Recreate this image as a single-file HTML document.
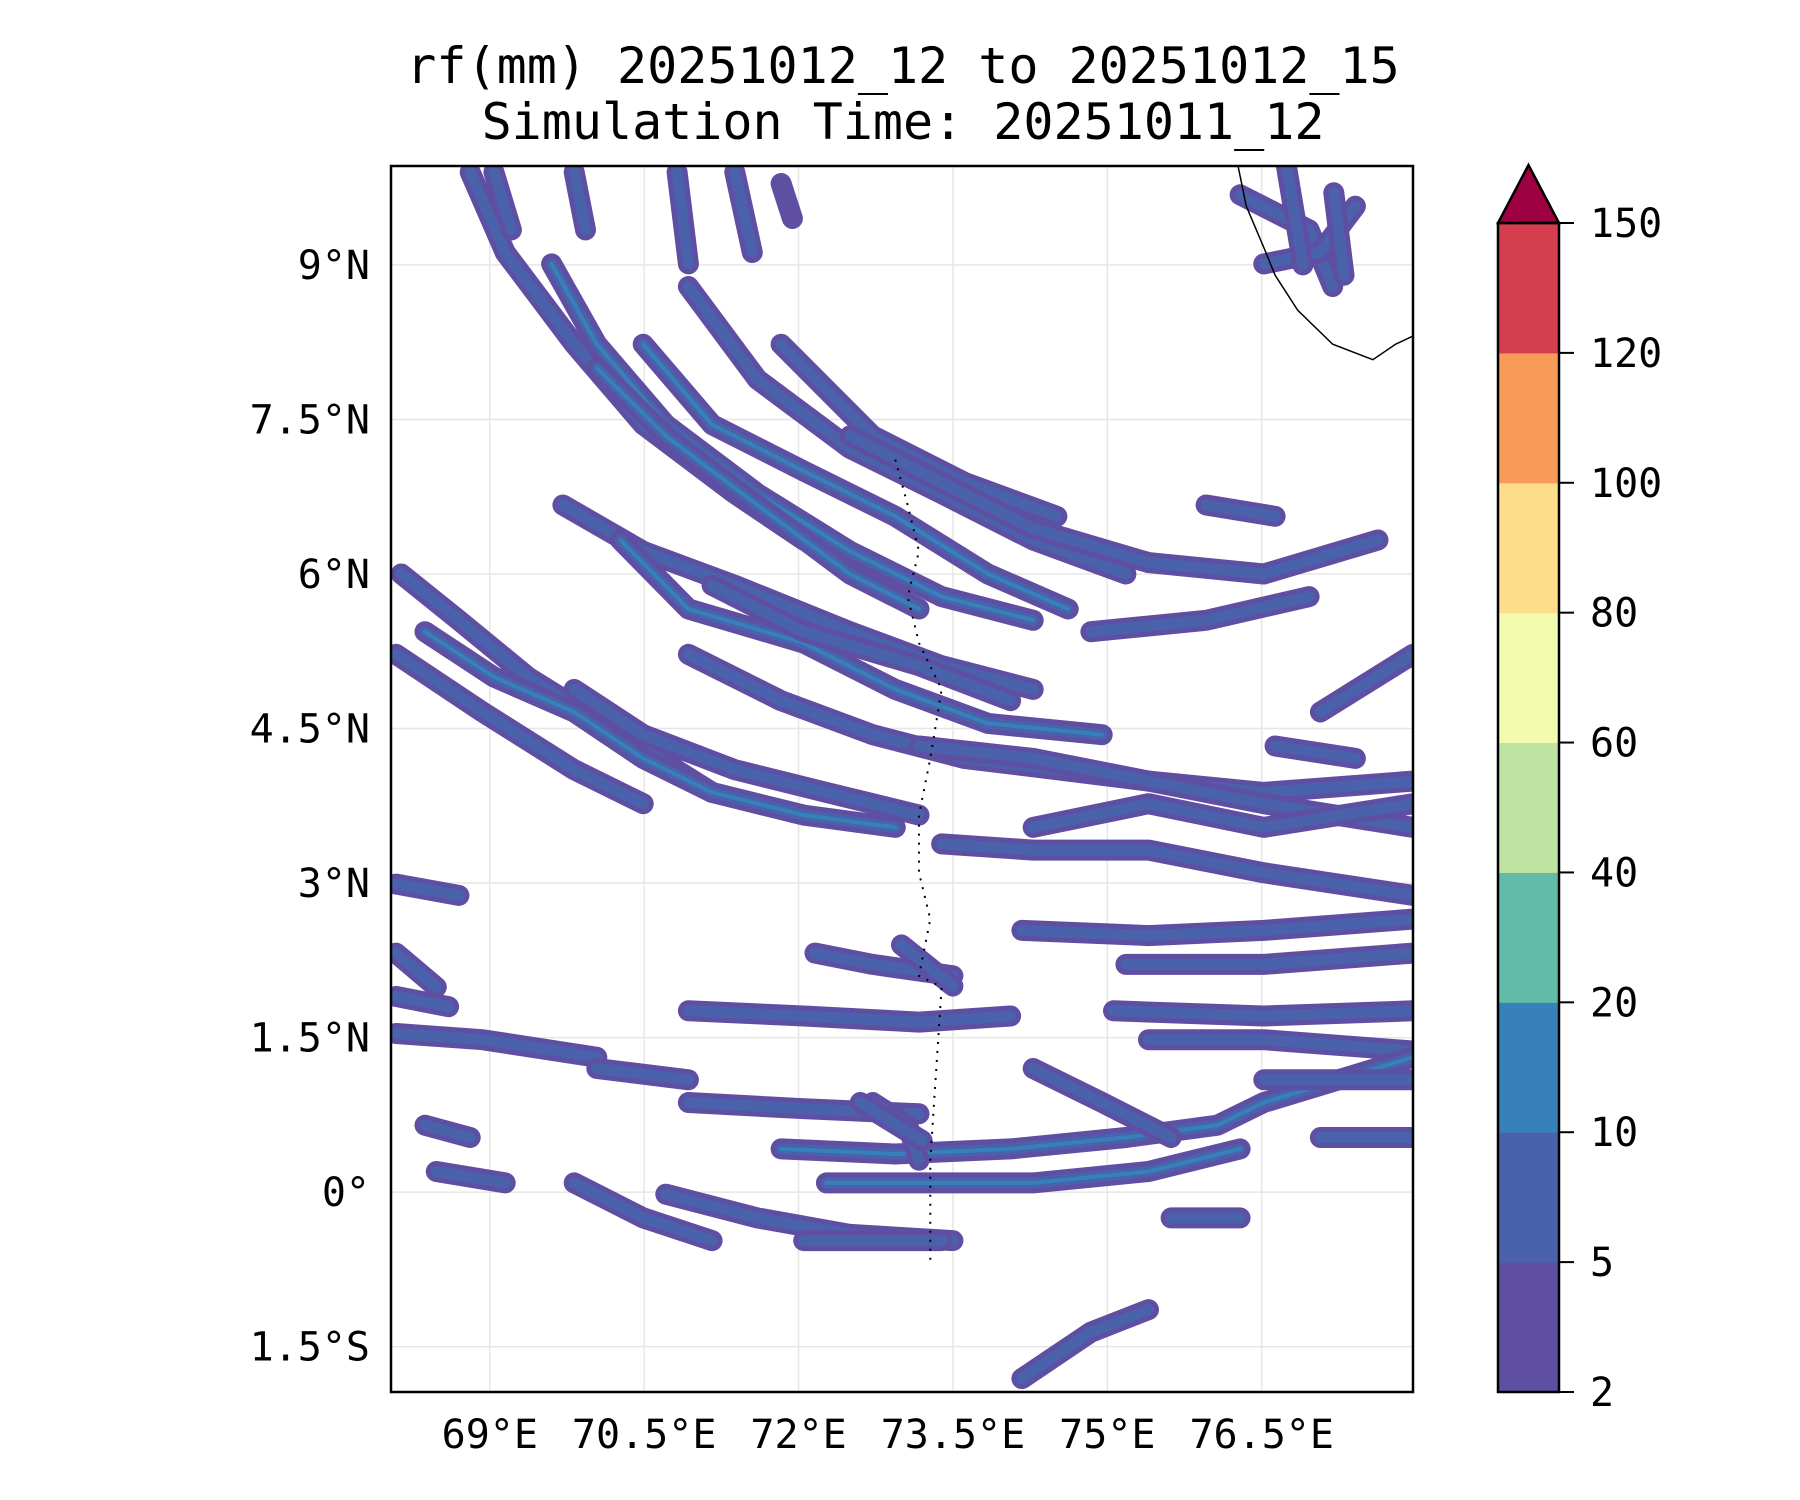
<!DOCTYPE html>
<html><head><meta charset="utf-8"><style>
html,body{margin:0;padding:0;background:#fff;width:1800px;height:1500px;overflow:hidden}
svg text{font-family:"DejaVu Sans Mono","Liberation Mono",monospace;fill:#000}
</style></head><body>
<svg id="chart" width="1800" height="1500" viewBox="0 0 1800 1500" xmlns="http://www.w3.org/2000/svg">
<text x="903" y="83" font-size="50" text-anchor="middle">rf(mm) 20251012_12 to 20251012_15</text>
<text x="903" y="139" font-size="50" text-anchor="middle">Simulation Time: 20251011_12</text>
<defs><clipPath id="pc"><rect x="391" y="166" width="1022" height="1226"/></clipPath></defs>
<g id="grid"></g>
<g id="rain" clip-path="url(#pc)"></g>
<g id="coast" clip-path="url(#pc)"></g>
<rect x="391" y="166" width="1022" height="1226" fill="none" stroke="#000" stroke-width="2.5"/>
<g id="axes"></g>
<g id="cbar"></g>
</svg>
<script>
const lonTicks=[69,70.5,72,73.5,75,76.5];
const lonLabels=["69°E","70.5°E","72°E","73.5°E","75°E","76.5°E"];
const latTicks=[9,7.5,6,4.5,3,1.5,0,-1.5];
const latLabels=["9°N","7.5°N","6°N","4.5°N","3°N","1.5°N","0°","1.5°S"];
const cbLevels=[2,5,10,20,40,60,80,100,120,150];
const cbColors=["#5e4fa2","#4a62ac","#3681ba","#62bba9","#bde4a0","#f2faad","#fddc8b","#f99b58","#d53e4f"];
const cbExtendColor="#9e0142";
// rain bands: flat lon,lat pairs
const bands=[
[68.81,9.90,69.15,9.12,69.82,8.23,70.49,7.45,71.38,6.78,72.05,6.33,72.94,5.89],
[69.60,9.01,70.04,8.23,70.71,7.45,71.60,6.78,72.50,6.22,73.39,5.78,74.28,5.55],
[70.04,8.00,70.71,7.34,71.60,6.67,72.50,6.00,73.17,5.66],
[70.49,8.23,71.16,7.45,72.05,7.00,72.94,6.56,73.84,6.00,74.62,5.66],
[70.93,8.79,71.60,7.89,72.50,7.22,73.39,6.78,74.28,6.33,75.18,6.00],
[71.83,8.23,72.72,7.34,73.61,6.89,74.51,6.56],
[72.50,7.34,73.39,6.89,74.28,6.44,75.40,6.11,76.52,6.00,77.63,6.33],
[69.71,6.67,70.49,6.22,71.38,5.89,72.50,5.44,73.39,5.11,74.28,4.88],
[70.27,6.33,70.93,5.66,72.05,5.33,72.94,4.88,73.84,4.55,74.95,4.44],
[71.16,5.89,72.05,5.44,73.17,5.11,74.06,4.77],
[68.14,6.00,68.70,5.55,69.37,5.00,70.27,4.44,71.16,3.88],
[68.09,5.22,68.93,4.66,69.82,4.10,70.49,3.77],
[68.37,5.44,69.04,5.00,69.82,4.66,70.49,4.21,71.16,3.88,72.05,3.66,72.94,3.54],
[69.82,4.88,70.49,4.44,71.38,4.10,72.27,3.88,73.17,3.66],
[70.93,5.22,71.83,4.77,72.72,4.44,73.61,4.21,74.51,4.10,75.40,3.99,76.52,3.88,77.97,3.99],
[73.17,4.33,74.28,4.21,75.40,3.99,76.52,3.77,77.97,3.54],
[73.39,3.38,74.28,3.32,75.40,3.32,76.52,3.10,77.97,2.88],
[74.28,3.54,75.40,3.77,76.52,3.54,77.97,3.77],
[74.84,5.44,75.96,5.55,76.96,5.78],
[77.07,4.66,77.97,5.22],
[68.09,2.99,68.70,2.88],
[74.17,2.54,75.40,2.49,76.52,2.54,77.97,2.65],
[75.18,2.21,76.52,2.21,77.97,2.32],
[75.06,1.76,76.52,1.71,77.97,1.76],
[75.40,1.48,76.52,1.48,77.97,1.37],
[72.16,2.32,72.72,2.21,73.50,2.10],
[70.93,1.76,72.05,1.71,73.17,1.65,74.06,1.71],
[68.09,1.54,68.93,1.48,70.04,1.31],
[70.04,1.20,70.93,1.09],
[70.93,0.87,72.05,0.81,73.17,0.76],
[71.83,0.42,72.94,0.37,74.06,0.42,75.18,0.53,76.07,0.65,76.52,0.87,77.97,1.31],
[72.27,0.09,73.17,0.09,74.28,0.09,75.40,0.20,76.29,0.42],
[70.71,-0.02,71.60,-0.25,72.50,-0.41,73.50,-0.47],
[69.82,0.09,70.49,-0.25,71.16,-0.47],
[74.28,1.20,74.95,0.87,75.62,0.53],
[76.52,1.09,77.97,1.09],
[68.48,0.20,69.15,0.09],
[68.09,2.32,68.48,1.99],
[77.07,0.53,77.97,0.53],
[72.72,0.87,73.06,0.65,73.17,0.31],
[76.29,9.68,76.96,9.34,77.19,8.79],
[76.52,9.01,77.07,9.12,77.41,9.57],
[74.17,-1.81,74.84,-1.36,75.40,-1.14],
[72.05,-0.47,73.39,-0.47],
[75.96,6.67,76.63,6.56],
[76.63,4.33,77.41,4.21],
[68.37,0.65,68.81,0.53],
[75.62,-0.25,76.29,-0.25],
[69.04,9.90,69.21,9.34],
[69.82,9.90,69.93,9.34],
[70.82,9.90,70.93,9.01],
[71.38,9.90,71.55,9.12],
[71.83,9.79,71.94,9.45],
[76.74,9.96,76.90,9.00],
[77.20,9.70,77.30,8.90],
[72.60,0.87,73.20,0.50],
[68.09,1.90,68.60,1.80],
[73.00,2.40,73.50,2.00]
];
const bandPeak=[2,3,3,3,2,2,2,2,3,2,2,2,3,2,2,2,2,2,2,2,2,2,2,2,2,2,2,2,2,2,3,3,2,2,2,2,2,2,2,2,2,2,2,2,2,2,2,2,2,2,2,2,1,2,2,2,2,2];
const coastLon=[76.27,76.35,76.52,76.63,76.85,77.19,77.58,77.80,77.97];
const coastLat=[9.96,9.57,9.17,8.90,8.56,8.23,8.08,8.23,8.31];
const atollLon=[72.94,73.06,73.17,73.06,73.17,73.39,73.28,73.17,73.17,73.28,73.17,73.39,73.28,73.28];
const atollLat=[7.11,6.67,6.22,5.78,5.33,4.88,4.21,3.66,3.10,2.65,2.10,1.99,0.31,-0.69];

const L=391,R=1413,T=166,B=1392,lon0=68.04,lon1=77.97,lat0=-1.94,lat1=9.96;
const xS=v=>L+(v-lon0)/(lon1-lon0)*(R-L);
const yS=v=>B-(v-lat0)/(lat1-lat0)*(B-T);
const NS="http://www.w3.org/2000/svg";
function mk(tag,parent,attrs){const e=document.createElementNS(NS,tag);for(const k in attrs)e.setAttribute(k,attrs[k]);parent.appendChild(e);return e;}
const grid=document.getElementById('grid'),axes=document.getElementById('axes');
lonTicks.forEach((v,i)=>{
 const l=mk('line',grid,{x1:xS(v),x2:xS(v),y1:T,y2:B,stroke:'#e6e6e6','stroke-width':1.5});
 
 
 const t=mk('text',axes,{x:xS(v),y:1448,'font-size':40,'text-anchor':'middle'});t.textContent=lonLabels[i];
 
 
});
latTicks.forEach((v,i)=>{
 const l=mk('line',grid,{x1:L,x2:R,y1:yS(v),y2:yS(v),stroke:'#e6e6e6','stroke-width':1.5});
 
 
 const t=mk('text',axes,{x:370,y:yS(v)+14,'font-size':40,'text-anchor':'end'});t.textContent=latLabels[i];
 
 
});
const rain=document.getElementById('rain');
const widths=[21,11,4];
bands.forEach((b,i)=>{
 let d='';for(let j=0;j<b.length;j+=2)d+=(j?'L':'M')+xS(b[j]).toFixed(1)+' '+yS(b[j+1]).toFixed(1);
 for(let k=0;k<bandPeak[i];k++){
  const p=mk('path',rain,{d:d,fill:'none',stroke:cbColors[k],'stroke-width':widths[k],'stroke-linejoin':'round','stroke-linecap':'round'});
  
  
 }
});
const coast=document.getElementById('coast');
let cd='';coastLon.forEach((v,i)=>cd+=(i?'L':'M')+xS(v)+' '+yS(coastLat[i]));
const cp=mk('path',coast,{d:cd,fill:'none',stroke:'#000','stroke-width':1.5});


let ad='';atollLon.forEach((v,i)=>ad+=(i?'L':'M')+xS(v)+' '+yS(atollLat[i]));
const ap=mk('path',coast,{d:ad,fill:'none',stroke:'#000','stroke-width':2,'stroke-dasharray':'2 7'});


// colorbar
const cb=document.getElementById('cbar');
const cL=1498,cR=1559,cT=223,cB=1392,n=cbLevels.length-1,h=(cB-cT)/n;
cbColors.forEach((c,i)=>{
 const r=mk('rect',cb,{x:cL,y:cB-(i+1)*h,width:cR-cL,height:h+0.5,fill:c});
 
 
});
const tri=mk('polygon',cb,{points:`${cL},${cT} ${cR},${cT} ${(cL+cR)/2},165`,fill:cbExtendColor,stroke:'#000','stroke-width':2.5});


const fr=mk('rect',cb,{x:cL,y:cT,width:cR-cL,height:cB-cT,fill:'none',stroke:'#000','stroke-width':2.5});


cbLevels.forEach((v,i)=>{
 const y=cB-i*h;
 const tk=mk('line',cb,{x1:cR,x2:cR+15,y1:y,y2:y,stroke:'#000','stroke-width':2});
 
 
 const t=mk('text',cb,{x:1590,y:y+14,'font-size':40});t.textContent=v;
 
 
});
</script>
</body></html>
